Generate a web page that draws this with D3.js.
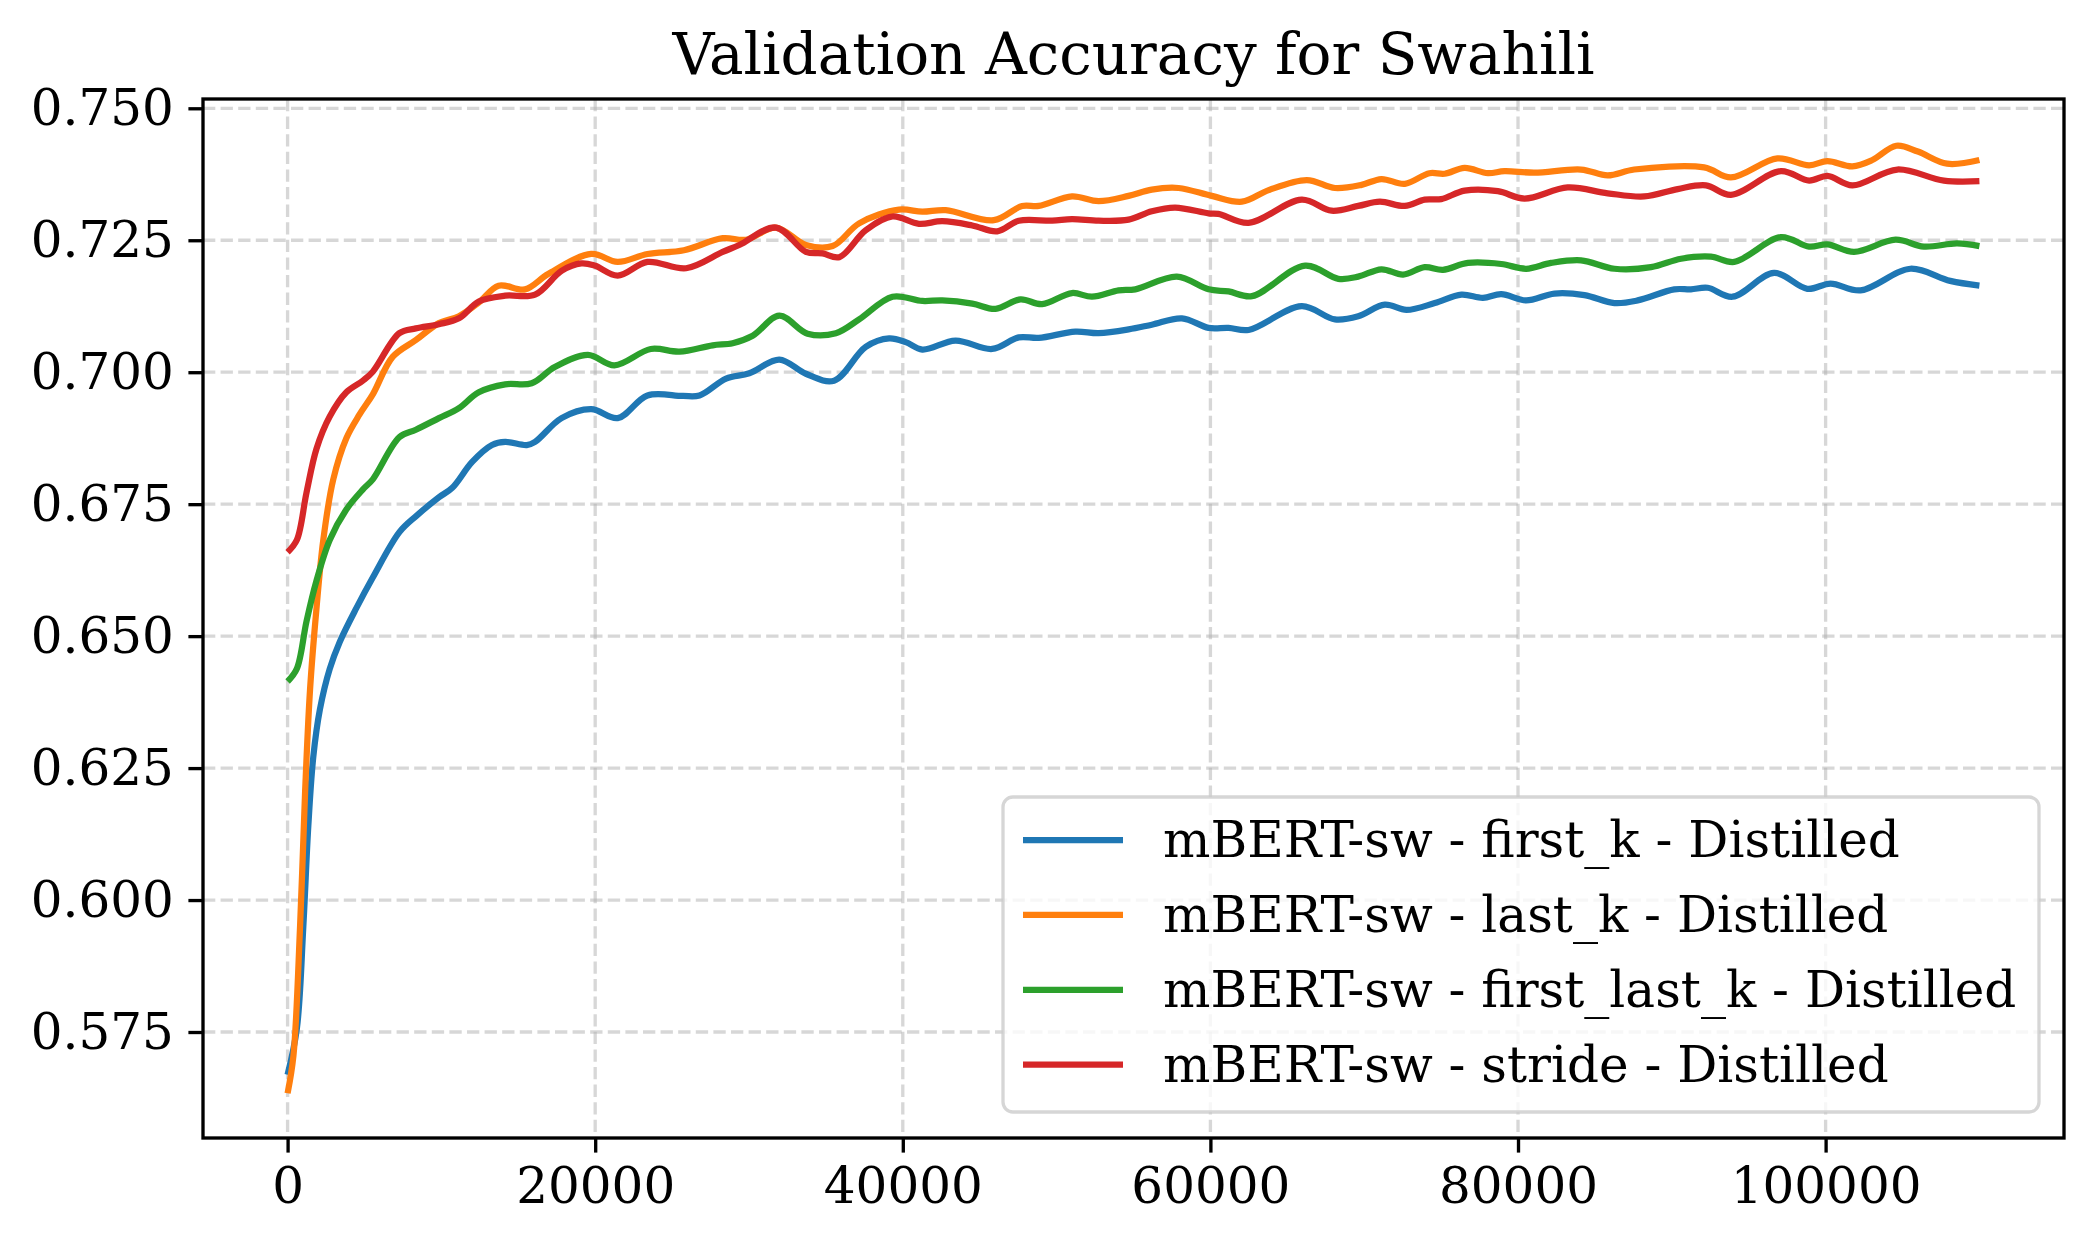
<!DOCTYPE html>
<html>
<head>
<meta charset="utf-8">
<script src="https://cdn.jsdelivr.net/npm/d3@7"></script>
<style>
  body { margin: 0; background: #fff; }
  text { font-family: "DejaVu Serif", serif; fill: #000; }
</style>
</head>
<body>
<svg id="chart" width="2092" height="1247"></svg>
<script>
// values, [step, accuracy]
var firstK = [[0,0.5669],[600,0.5756],[1020,0.5949],[1350,0.6142],[1670,0.6271],[2100,0.6361],[2740,0.6438],[3390,0.6489],[4470,0.6553],[5540,0.6611],[7270,0.6697],[8340,0.6727],[9840,0.6763],[10710,0.6781],[12000,0.6830],[13290,0.6862],[14150,0.6868],[15550,0.6862],[16090,0.6868],[17810,0.6913],[19740,0.6930],[21460,0.6913],[23400,0.6956],[25700,0.6955],[26780,0.6956],[28510,0.6988],[30020,0.6998],[31970,0.7024],[33700,0.6997],[35530,0.6984],[37590,0.7048],[39110,0.7064],[40190,0.7057],[41270,0.7043],[43430,0.7060],[45810,0.7044],[47540,0.7066],[48840,0.7065],[51220,0.7077],[52730,0.7074],[54680,0.7081],[56190,0.7090],[58150,0.7102],[59880,0.7084],[61180,0.7084],[62480,0.7080],[65940,0.7125],[68100,0.7100],[69610,0.7106],[71340,0.7128],[72750,0.7118],[74590,0.7131],[76320,0.7147],[77720,0.7141],[78910,0.7148],[80530,0.7136],[82370,0.7149],[84320,0.7146],[86270,0.7131],[87780,0.7136],[90160,0.7157],[91240,0.7157],[92330,0.7160],[93950,0.7143],[96650,0.7188],[98810,0.7158],[100320,0.7168],[102270,0.7155],[105510,0.7196],[108100,0.7173],[110000,0.7164]];

var lastK = [[0,0.5634],[380,0.5705],[810,0.5949],[1140,0.6206],[1460,0.6399],[1880,0.6553],[2320,0.6682],[2970,0.6797],[3820,0.6875],[4680,0.6920],[5540,0.6958],[6830,0.7029],[8340,0.7061],[9840,0.7093],[11140,0.7106],[12430,0.7132],[13720,0.7164],[15440,0.7157],[16940,0.7186],[19740,0.7224],[21460,0.7209],[23400,0.7224],[25770,0.7231],[28290,0.7254],[29800,0.7251],[31750,0.7274],[33700,0.7241],[35440,0.7239],[37160,0.7282],[39750,0.7308],[41270,0.7304],[42790,0.7307],[45920,0.7288],[47760,0.7315],[48840,0.7315],[51000,0.7333],[52730,0.7324],[54680,0.7334],[56190,0.7346],[57930,0.7349],[60090,0.7334],[62050,0.7323],[63790,0.7345],[66270,0.7364],[68100,0.7349],[69830,0.7355],[71120,0.7366],[72640,0.7357],[74240,0.7377],[75230,0.7376],[76530,0.7387],[78040,0.7377],[79120,0.7381],[81070,0.7378],[84100,0.7384],[85830,0.7373],[87560,0.7384],[92100,0.7388],[93840,0.7369],[96870,0.7405],[98930,0.7392],[100120,0.7400],[101740,0.7390],[103040,0.7402],[104600,0.7429],[106000,0.7418],[107900,0.7395],[110000,0.7402]];

var firstLastK = [[0,0.6414],[600,0.6438],[1230,0.6528],[1880,0.6605],[2740,0.6682],[3820,0.6740],[4900,0.6778],[5540,0.6797],[7270,0.6877],[8340,0.6891],[9840,0.6913],[11140,0.6932],[12430,0.6962],[14150,0.6977],[15870,0.6979],[17370,0.7010],[19530,0.7033],[21250,0.7013],[23610,0.7044],[25480,0.7039],[27640,0.7051],[28940,0.7055],[30240,0.7069],[31970,0.7107],[33810,0.7073],[35650,0.7074],[37160,0.7100],[39330,0.7143],[41270,0.7135],[42570,0.7136],[44520,0.7130],[46030,0.7120],[47650,0.7138],[49060,0.7129],[51000,0.7150],[52300,0.7143],[54030,0.7155],[55120,0.7157],[57820,0.7181],[59880,0.7157],[61180,0.7153],[62700,0.7144],[66160,0.7202],[68320,0.7177],[69610,0.7181],[71120,0.7195],[72530,0.7185],[73930,0.7199],[75120,0.7194],[76740,0.7207],[78910,0.7205],[80530,0.7196],[82150,0.7207],[84100,0.7212],[86270,0.7196],[88650,0.7199],[90600,0.7215],[92550,0.7219],[94060,0.7209],[97090,0.7256],[98930,0.7238],[100120,0.7242],[101850,0.7228],[104550,0.7251],[106390,0.7238],[108550,0.7244],[110000,0.7239]];

var stride = [[0,0.6659],[600,0.6682],[1230,0.6772],[1880,0.6855],[2740,0.6916],[3820,0.6962],[4900,0.6984],[5540,0.7001],[7270,0.7074],[8340,0.7083],[9840,0.7091],[11140,0.7102],[12430,0.7134],[14150,0.7145],[16090,0.7147],[17810,0.7192],[19100,0.7206],[19960,0.7202],[21460,0.7183],[23400,0.7209],[25910,0.7197],[28290,0.7228],[29370,0.7241],[31750,0.7274],[33700,0.7228],[34780,0.7225],[35870,0.7218],[37590,0.7269],[39330,0.7295],[41050,0.7281],[42570,0.7286],[44520,0.7278],[46140,0.7267],[47540,0.7287],[49710,0.7287],[51000,0.7290],[52730,0.7287],[54680,0.7289],[56190,0.7305],[57710,0.7312],[59880,0.7301],[60520,0.7300],[62480,0.7283],[65940,0.7327],[67880,0.7306],[69610,0.7315],[71020,0.7323],[72640,0.7315],[73930,0.7327],[75010,0.7328],[76530,0.7344],[78690,0.7343],[80420,0.7329],[83230,0.7350],[85830,0.7339],[88210,0.7333],[90380,0.7347],[92220,0.7354],[93840,0.7336],[97090,0.7381],[98930,0.7363],[100120,0.7372],[101740,0.7354],[104660,0.7384],[107690,0.7363],[110000,0.7362]];

var labels = ["mBERT-sw - first_k - Distilled", "mBERT-sw - last_k - Distilled",
              "mBERT-sw - first_last_k - Distilled", "mBERT-sw - stride - Distilled"];
var colors = ["#1f77b4", "#ff7f0e", "#2ca02c", "#d62728"];
var xTicks = [0, 20000, 40000, 60000, 80000, 100000];
var yTicks = [0.575, 0.600, 0.625, 0.650, 0.675, 0.700, 0.725, 0.750];

var series = [firstK, lastK, firstLastK, stride];

var axL = 203, axR = 2064, axT = 99, axB = 1138;
var svg = d3.select("#chart");

var x = d3.scaleLinear().domain([-5500, 115500]).range([axL, axR]);
var y = d3.scaleLinear().domain([0.55492, 0.75176]).range([axB, axT]);

// grid
var grid = svg.append("g").attr("stroke", "#b0b0b0").attr("stroke-opacity", 0.5)
  .attr("stroke-width", 3.3).attr("stroke-dasharray", "12.3,5.3");
grid.selectAll(".gx").data(xTicks).enter().append("line")
  .attr("x1", function(d){ return x(d); }).attr("x2", function(d){ return x(d); })
  .attr("y1", axT).attr("y2", axB);
grid.selectAll(".gy").data(yTicks).enter().append("line")
  .attr("y1", function(d){ return y(d); }).attr("y2", function(d){ return y(d); })
  .attr("x1", axL).attr("x2", axR);

// lines
var line = d3.line()
  .x(function(d){ return x(d[0]); })
  .y(function(d){ return y(d[1]); })
  .curve(d3.curveCatmullRom.alpha(0.5));

svg.append("g").selectAll("path").data(series).enter().append("path")
  .attr("d", line)
  .attr("fill", "none")
  .attr("stroke", function(d, i){ return colors[i]; })
  .attr("stroke-width", 6.25)
  .attr("stroke-linejoin", "round");

// axes
var xAxis = d3.axisBottom(x).tickValues(xTicks).tickFormat(d3.format("d"))
  .tickSize(14.6).tickPadding(14.6).tickSizeOuter(0);
var yAxis = d3.axisLeft(y).tickValues(yTicks).tickFormat(d3.format(".3f"))
  .tickSize(14.6).tickPadding(14.6).tickSizeOuter(0);

var gx = svg.append("g").attr("transform", "translate(0," + axB + ")").call(xAxis);
var gy = svg.append("g").attr("transform", "translate(" + axL + ",0)").call(yAxis);
[gx, gy].forEach(function(g){
  g.select(".domain").remove();
  g.selectAll("line").attr("stroke", "#000").attr("stroke-width", 3.33);
  g.selectAll("text").attr("font-family", "DejaVu Serif").attr("font-size", 50).attr("fill", "#000");
});

// frame
svg.append("rect").attr("x", axL).attr("y", axT)
  .attr("width", axR - axL).attr("height", axB - axT)
  .attr("fill", "none").attr("stroke", "#000").attr("stroke-width", 3.33);

// title
svg.append("text").attr("x", (axL + axR) / 2).attr("y", 74)
  .attr("text-anchor", "middle").attr("font-size", 58)
  .text("Validation Accuracy for Swahili");

// legend
var lg = svg.append("g");
lg.append("rect").attr("x", 1003).attr("y", 797).attr("width", 1036).attr("height", 315)
  .attr("rx", 10).attr("ry", 10)
  .attr("fill", "#fff").attr("fill-opacity", 0.8)
  .attr("stroke", "#cccccc").attr("stroke-opacity", 0.8).attr("stroke-width", 3.3);
var rows = lg.selectAll(".row").data(labels).enter().append("g")
  .attr("transform", function(d, i){ return "translate(0," + (840 + i * 74.9) + ")"; });
rows.append("line").attr("x1", 1023).attr("x2", 1123).attr("y1", 0).attr("y2", 0)
  .attr("stroke", function(d, i){ return colors[i]; }).attr("stroke-width", 6.25);
rows.append("text").attr("x", 1163).attr("y", 17).attr("font-size", 50)
  .text(function(d){ return d; });
</script>
</body>
</html>
